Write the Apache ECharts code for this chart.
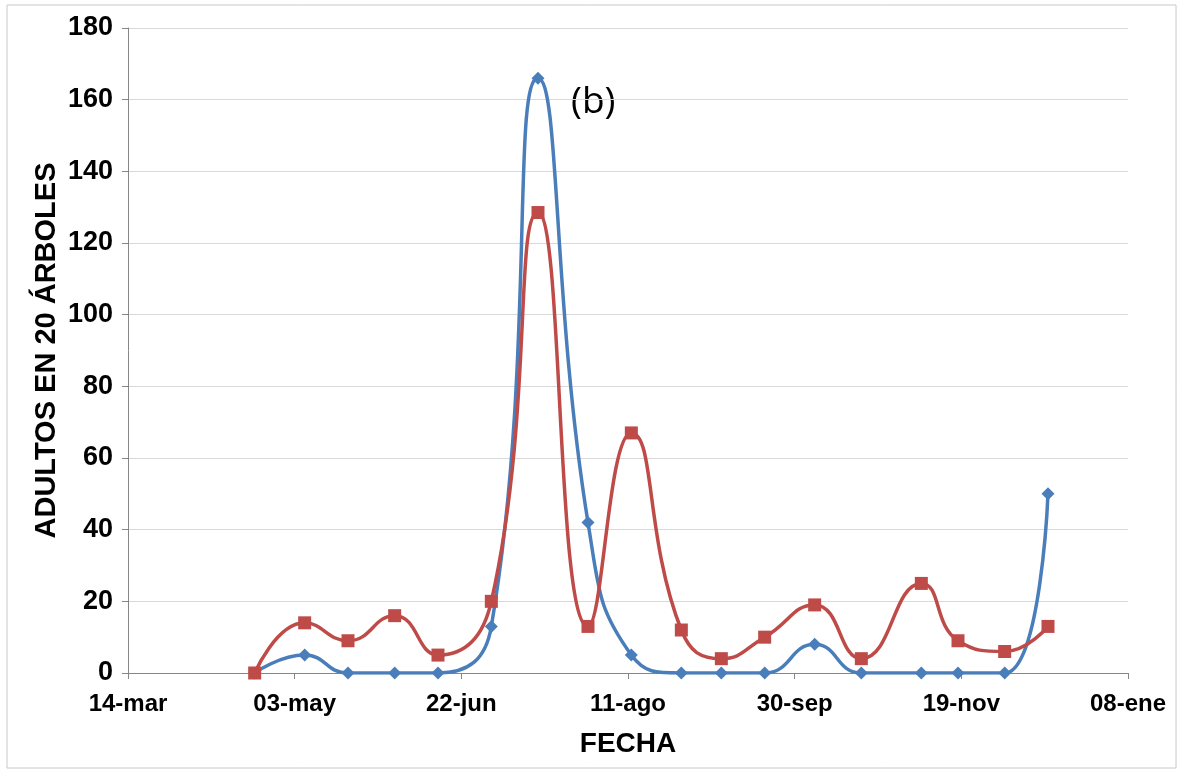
<!DOCTYPE html>
<html>
<head>
    <meta charset="utf-8">
    <title>Adultos en 20 árboles</title>
    <script src="https://cdn.jsdelivr.net/npm/echarts@6/dist/echarts.min.js"></script>
    <style>
        html, body { margin: 0; padding: 0; background: #fff; }
        #chart { width: 1182px; height: 774px; }
    </style>
</head>
<body>
<div id="chart"></div>
<script>
    // fechas de muestreo
    var fechas = ['2010-04-21', '2010-05-06', '2010-05-19', '2010-06-02', '2010-06-15', '2010-07-01',
        '2010-07-15', '2010-07-30', '2010-08-12', '2010-08-27', '2010-09-08', '2010-09-21',
        '2010-10-06', '2010-10-20', '2010-11-07', '2010-11-18', '2010-12-02', '2010-12-15'];
    var serieAzul = [0, 5, 0, 0, 0, 13, 166, 42, 5, 0, 0, 0, 8, 0, 0, 0, 0, 50];
    var serieRoja = [0, 14, 9, 16, 5, 20, 128.5, 13, 67, 12, 4, 10, 19, 4, 25, 9, 6, 13];
    var etiquetasX = ['14-mar', '03-may', '22-jun', '11-ago', '30-sep', '19-nov', '08-ene'];
    var inicio = '2010-03-14';

    function dias(f) {
        return Math.round((Date.parse(f) - Date.parse(inicio)) / 86400000);
    }

    var azul = fechas.map(function (f, i) { return [dias(f), serieAzul[i]]; });
    var roja = fechas.map(function (f, i) { return [dias(f), serieRoja[i]]; });

    var chart = echarts.init(document.getElementById('chart'));
    var fuente = '"Liberation Sans", Arial, sans-serif';

    var option = {
        backgroundColor: '#fff',
        animation: false,
        grid: { left: 128, right: 54, top: 28, bottom: 101, containLabel: false },
        graphic: [
            {
                type: 'rect',
                shape: { x: 7, y: 5, width: 1169, height: 763 },
                style: { fill: 'none', stroke: '#c8c8c8', lineWidth: 1 },
                silent: true
            },
            {
                type: 'text',
                left: 571,
                top: 84,
                style: { text: '(b)', font: '37px "Open Sans", "Noto Sans", sans-serif', fill: '#000' }
            }
        ],
        xAxis: {
            type: 'value',
            min: 0,
            max: 300,
            interval: 50,
            name: 'FECHA',
            nameLocation: 'middle',
            nameGap: 57,
            nameMoveOverlap: false,
            nameTextStyle: { fontFamily: fuente, fontWeight: 'bold', fontSize: 28, color: '#000' },
            axisLine: { show: true, lineStyle: { color: '#868686', width: 1 } },
            axisTick: { show: true, length: 6, lineStyle: { color: '#868686' } },
            axisLabel: {
                margin: 19,
                fontFamily: fuente, fontWeight: 'bold', fontSize: 24, color: '#000',
                formatter: function (v) { return etiquetasX[Math.round(v / 50)]; }
            },
            splitLine: { show: false }
        },
        yAxis: {
            type: 'value',
            min: 0,
            max: 180,
            interval: 20,
            name: 'ADULTOS EN 20 ÁRBOLES',
            nameLocation: 'middle',
            nameGap: 67,
            nameMoveOverlap: false,
            nameTextStyle: { fontFamily: fuente, fontWeight: 'bold', fontSize: 29, color: '#000' },
            axisLine: { show: true, lineStyle: { color: '#868686', width: 1 } },
            axisTick: { show: true, length: 6, lineStyle: { color: '#868686' } },
            axisLabel: { margin: 15, fontFamily: fuente, fontWeight: 'bold', fontSize: 27, color: '#000' },
            splitLine: { show: true, lineStyle: { color: '#d9d9d9', width: 1 } }
        },
        series: [
            {
                name: 'azul',
                type: 'line',
                smooth: 0.5,
                data: azul,
                symbol: 'diamond',
                symbolSize: 13,
                lineStyle: { color: '#4a7ebb', width: 3.5 },
                itemStyle: { color: '#4a7ebb' },
                z: 2
            },
            {
                name: 'roja',
                type: 'line',
                smooth: 0.5,
                data: roja,
                symbol: 'rect',
                symbolSize: 13,
                lineStyle: { color: '#be4b48', width: 3.5 },
                itemStyle: { color: '#be4b48' },
                z: 3
            }
        ]
    };
    chart.setOption(option);

    window.onresize = function () {
        chart.resize();
    };
</script>
</body>
</html>
